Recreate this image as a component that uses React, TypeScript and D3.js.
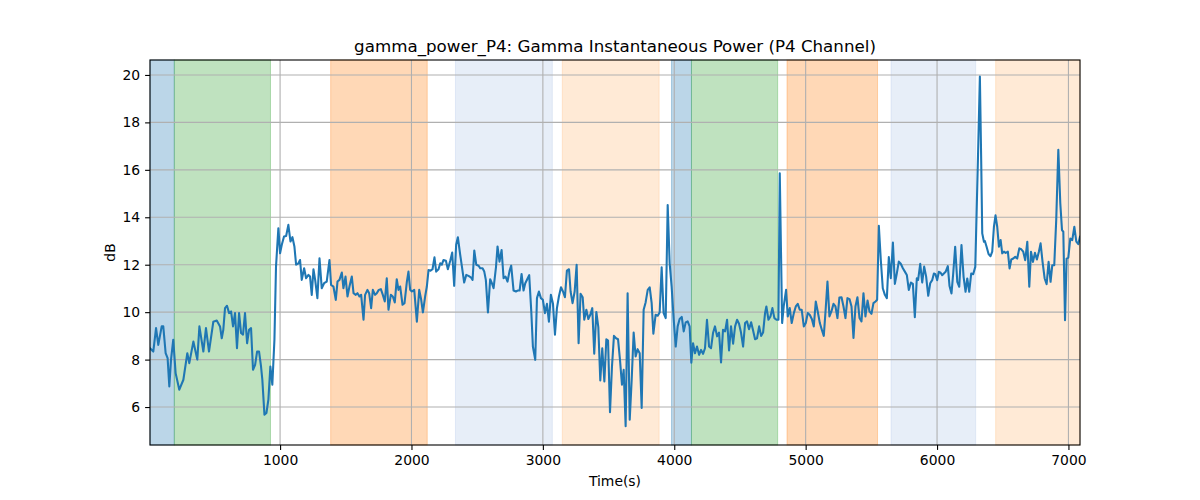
import React, { useEffect, useRef } from "react";
import * as d3 from "d3";

// gamma power samples: [time (s), dB]
const gammaPower: [number, number][] = [
	[10, 8.48], [35, 8.34], [56, 9.33], [73, 8.62], [99, 9.4], [111, 9.4], [129, 8.27], [144, 8.06],
	[157, 6.87], [170, 8.0], [187, 8.84], [205, 7.43], [233, 6.73], [264, 7.15], [294, 8.27], [309, 7.85],
	[340, 8.76], [370, 8.0], [386, 9.4], [416, 8.34], [436, 9.33], [459, 8.34], [492, 9.6], [518, 9.65],
	[543, 9.4], [556, 8.9], [568, 9.26], [581, 10.17], [596, 10.27], [612, 9.96], [627, 10.03], [642, 9.4],
	[657, 9.96], [672, 8.48], [688, 9.96], [703, 9.12], [718, 9.05], [733, 9.96], [749, 8.69], [764, 9.26],
	[779, 9.33], [794, 7.57], [810, 7.78], [825, 8.34], [840, 8.34], [855, 7.71], [865, 7.15], [881, 5.68],
	[896, 5.75], [911, 6.31], [926, 7.71], [941, 6.94], [957, 8.84], [969, 11.92], [987, 13.54], [1000, 12.48],
	[1013, 12.84], [1030, 13.19], [1046, 13.21], [1063, 13.68], [1079, 12.98], [1094, 13.16], [1109, 12.77], [1122, 12.0],
	[1140, 12.06], [1152, 12.2], [1165, 11.36], [1183, 11.85], [1198, 11.43], [1216, 11.57], [1228, 11.5], [1241, 10.73],
	[1254, 11.81], [1267, 11.36], [1284, 10.59], [1300, 12.27], [1317, 11.01], [1335, 11.22], [1355, 11.29], [1376, 12.2],
	[1388, 11.15], [1406, 11.08], [1424, 10.52], [1437, 11.29], [1452, 11.36], [1470, 11.67], [1482, 11.01], [1498, 11.5],
	[1513, 10.66], [1528, 11.08], [1546, 11.5], [1559, 10.8], [1576, 10.73], [1589, 10.8], [1604, 10.66], [1617, 10.73],
	[1635, 9.68], [1647, 10.73], [1665, 10.94], [1678, 10.8], [1693, 10.17], [1706, 10.94], [1723, 10.73], [1736, 10.8],
	[1751, 10.94], [1767, 10.97], [1782, 10.73], [1797, 10.45], [1812, 11.43], [1825, 10.1], [1843, 10.73], [1858, 10.66],
	[1873, 10.41], [1888, 11.39], [1901, 10.94], [1914, 11.08], [1932, 10.31], [1947, 10.38], [1965, 11.29], [1977, 11.71],
	[1990, 10.94], [2003, 10.87], [2021, 10.94], [2041, 9.6], [2059, 10.94], [2074, 10.52], [2087, 9.99], [2104, 10.66],
	[2117, 11.08], [2130, 11.78], [2145, 11.75], [2160, 11.81], [2175, 12.31], [2188, 11.71], [2206, 11.81], [2219, 12.06],
	[2231, 12.0], [2244, 12.2], [2262, 12.17], [2277, 11.81], [2295, 12.17], [2310, 12.51], [2325, 11.11], [2340, 12.84],
	[2353, 13.16], [2371, 12.41], [2384, 11.92], [2401, 11.25], [2417, 11.57], [2434, 11.53], [2452, 11.47], [2465, 11.36],
	[2478, 12.6], [2493, 12.0], [2511, 11.96], [2523, 11.85], [2541, 11.85], [2554, 11.71], [2566, 11.36], [2582, 9.99],
	[2599, 11.39], [2612, 11.22], [2625, 11.01], [2643, 11.89], [2655, 12.77], [2670, 12.13], [2686, 12.62], [2701, 11.43],
	[2716, 11.5], [2731, 11.29], [2747, 11.75], [2759, 11.96], [2777, 10.91], [2795, 10.87], [2808, 10.91], [2823, 10.91],
	[2838, 11.61], [2853, 10.91], [2866, 11.22], [2881, 11.39], [2896, 11.56], [2912, 10.01], [2924, 8.55], [2942, 7.99],
	[2955, 10.59], [2970, 10.87], [2985, 10.59], [3000, 10.52], [3016, 9.96], [3031, 10.35], [3046, 9.6], [3061, 10.73],
	[3077, 10.35], [3092, 9.05], [3107, 10.17], [3122, 10.66], [3138, 11.05], [3153, 10.87], [3168, 10.63], [3183, 11.75],
	[3199, 11.81], [3211, 10.87], [3226, 10.38], [3242, 10.87], [3257, 12.0], [3272, 8.69], [3287, 10.77], [3303, 10.63],
	[3315, 9.68], [3331, 10.1], [3346, 9.71], [3361, 9.89], [3376, 10.17], [3391, 8.25], [3407, 10.01], [3422, 9.37],
	[3437, 7.12], [3452, 8.48], [3468, 7.08], [3483, 8.86], [3496, 8.8], [3511, 5.78], [3526, 7.71], [3541, 9.0],
	[3557, 8.9], [3572, 8.86], [3587, 7.99], [3602, 6.94], [3615, 7.57], [3630, 5.19], [3645, 10.8], [3661, 5.47],
	[3676, 7.15], [3691, 9.14], [3706, 8.13], [3721, 8.44], [3737, 8.27], [3752, 5.96], [3767, 10.1], [3782, 10.41],
	[3798, 10.94], [3813, 11.05], [3828, 10.38], [3841, 9.09], [3858, 9.89], [3874, 9.85], [3889, 9.99], [3904, 11.89],
	[3919, 9.96], [3935, 9.75], [3950, 14.52], [3965, 12.06], [3980, 11.08], [3996, 9.68], [4011, 8.55], [4026, 9.4],
	[4041, 9.71], [4057, 9.8], [4072, 9.19], [4087, 9.57], [4102, 9.61], [4117, 9.4], [4130, 7.87], [4143, 8.69],
	[4158, 8.27], [4173, 8.55], [4189, 8.2], [4204, 8.41], [4219, 8.24], [4234, 8.48], [4249, 9.68], [4265, 8.55],
	[4280, 8.48], [4295, 9.12], [4310, 9.4], [4326, 8.98], [4341, 9.14], [4356, 7.88], [4371, 9.26], [4387, 9.19],
	[4402, 9.68], [4417, 8.39], [4432, 9.4], [4448, 8.67], [4463, 9.4], [4478, 9.68], [4493, 9.51], [4508, 9.14],
	[4524, 8.55], [4539, 9.54], [4554, 9.61], [4569, 9.28], [4585, 9.57], [4600, 9.23], [4615, 8.86], [4630, 8.9],
	[4646, 9.4], [4661, 9.0], [4676, 9.14], [4691, 9.96], [4701, 10.24], [4717, 9.68], [4732, 9.82], [4747, 10.17],
	[4762, 9.75], [4778, 9.68], [4793, 9.68], [4803, 15.85], [4821, 9.54], [4833, 10.24], [4851, 10.94], [4864, 9.82],
	[4879, 10.17], [4894, 9.54], [4910, 9.96], [4925, 10.24], [4940, 10.35], [4955, 10.1], [4970, 10.1], [4986, 9.4],
	[5001, 9.54], [5016, 9.96], [5031, 9.89], [5047, 9.71], [5062, 9.4], [5077, 10.45], [5092, 10.03], [5108, 9.54],
	[5123, 9.26], [5138, 9.0], [5153, 10.17], [5166, 11.29], [5181, 9.82], [5196, 10.03], [5212, 10.35], [5227, 10.24],
	[5242, 9.75], [5257, 10.62], [5273, 10.63], [5288, 10.24], [5303, 9.75], [5318, 10.59], [5334, 10.55], [5349, 10.24],
	[5364, 8.91], [5379, 10.24], [5394, 10.63], [5410, 9.75], [5425, 9.61], [5440, 10.8], [5455, 9.82], [5471, 10.49],
	[5486, 10.03], [5501, 9.93], [5516, 10.38], [5532, 10.45], [5544, 10.52], [5557, 13.64], [5572, 12.2], [5587, 11.01],
	[5603, 10.73], [5618, 10.59], [5633, 12.32], [5648, 11.43], [5664, 12.93], [5679, 11.19], [5694, 11.64], [5709, 12.13],
	[5724, 12.04], [5740, 11.85], [5755, 11.71], [5770, 11.57], [5785, 10.94], [5801, 11.25], [5816, 11.19], [5831, 9.79],
	[5846, 11.43], [5856, 11.36], [5872, 12.04], [5887, 11.25], [5902, 11.92], [5917, 11.5], [5933, 10.69], [5948, 11.22],
	[5963, 11.35], [5976, 11.63], [5988, 11.6], [6001, 11.35], [6014, 11.7], [6027, 11.66], [6039, 11.56], [6052, 11.63],
	[6065, 11.7], [6082, 11.94], [6095, 11.1], [6110, 10.79], [6123, 11.63], [6138, 12.76], [6154, 11.28], [6169, 11.07],
	[6186, 12.83], [6202, 11.49], [6217, 10.86], [6230, 11.42], [6245, 10.86], [6260, 11.63], [6275, 11.6], [6291, 11.91],
	[6311, 16.41], [6326, 19.93], [6336, 16.4], [6344, 13.32], [6357, 12.97], [6364, 13.0], [6377, 12.76], [6392, 12.45],
	[6407, 12.36], [6420, 12.55], [6433, 13.6], [6445, 14.08], [6458, 13.6], [6471, 12.76], [6484, 13.04], [6496, 12.48],
	[6509, 12.55], [6522, 12.5], [6539, 12.55], [6552, 11.84], [6565, 12.22], [6580, 12.26], [6595, 12.33], [6610, 12.26],
	[6626, 12.69], [6641, 12.65], [6656, 12.55], [6671, 12.19], [6687, 12.97], [6702, 11.07], [6715, 12.55], [6730, 12.12],
	[6745, 12.5], [6760, 12.22], [6775, 12.55], [6788, 12.9], [6803, 12.12], [6819, 11.42], [6834, 11.18], [6849, 12.12],
	[6864, 11.28], [6877, 11.98], [6892, 11.98], [6907, 13.88], [6923, 16.84], [6938, 14.59], [6951, 13.46], [6961, 13.39],
	[6974, 9.66], [6986, 12.26], [6999, 12.3], [7014, 13.1], [7029, 13.04], [7045, 13.6], [7060, 12.97], [7075, 12.87],
	[7088, 13.18],
];

// shaded segments: [start, end, colour, opacity]
const spans: [number, number, string, number][] = [
	[10, 195, "#1f77b4", 0.3],
	[195, 927, "#2ca02c", 0.3],
	[1385, 2120, "#ff7f0e", 0.3],
	[2335, 3072, "#aec7e8", 0.3],
	[3148, 3885, "#ffbb78", 0.3],
	[3979, 4131, "#1f77b4", 0.3],
	[4131, 4787, "#2ca02c", 0.3],
	[4858, 5547, "#ff7f0e", 0.3],
	[5650, 6294, "#aec7e8", 0.3],
	[6446, 7088, "#ffbb78", 0.3],
];

const xTicks = [1000, 2000, 3000, 4000, 5000, 6000, 7000];
const yTicks = [6, 8, 10, 12, 14, 16, 18, 20];

export default function App() {
	const svgRef = useRef<SVGSVGElement | null>(null);

	useEffect(() => {
		if (!svgRef.current) return;
		const width = 1200;
		const height = 500;
		const margin = { top: 60, right: 120, bottom: 55, left: 150 };
		const font = "DejaVu Sans, sans-serif";

		const x = d3.scaleLinear().domain([10, 7088]).range([margin.left, width - margin.right]);
		const y = d3.scaleLinear().domain([4.4, 20.63]).range([height - margin.bottom, margin.top]);

		const svg = d3.select(svgRef.current);
		svg.selectAll("*").remove();
		svg.append("rect").attr("width", width).attr("height", height).attr("fill", "white");

		const plot = svg.append("g");
		const clip = svg.append("clipPath").attr("id", "plotclip");
		clip.append("rect")
			.attr("x", margin.left)
			.attr("y", margin.top)
			.attr("width", width - margin.left - margin.right)
			.attr("height", height - margin.top - margin.bottom);

		// spans
		plot.append("g")
			.selectAll("rect")
			.data(spans)
			.enter()
			.append("rect")
			.attr("x", (d) => x(d[0]))
			.attr("width", (d) => x(d[1]) - x(d[0]))
			.attr("y", margin.top)
			.attr("height", height - margin.top - margin.bottom)
			.attr("fill", (d) => d[2])
			.attr("fill-opacity", (d) => d[3])
			.attr("stroke", (d) => d[2])
			.attr("stroke-opacity", (d) => d[3])
			.attr("stroke-width", 1);

		// grid
		const grid = plot.append("g").attr("stroke", "#b0b0b0").attr("stroke-width", 1.1);
		xTicks.forEach((t) => {
			grid.append("line").attr("x1", x(t)).attr("x2", x(t)).attr("y1", margin.top).attr("y2", height - margin.bottom);
		});
		yTicks.forEach((t) => {
			grid.append("line").attr("y1", y(t)).attr("y2", y(t)).attr("x1", margin.left).attr("x2", width - margin.right);
		});

		// line
		const line = d3
			.line<[number, number]>()
			.x((d) => x(d[0]))
			.y((d) => y(d[1]));
		plot.append("path")
			.datum(gammaPower)
			.attr("clip-path", "url(#plotclip)")
			.attr("d", line)
			.attr("fill", "none")
			.attr("stroke", "#1f77b4")
			.attr("stroke-width", 2.08)
			.attr("stroke-linejoin", "round")
			.attr("stroke-linecap", "square");

		// axes
		const xAxis = svg
			.append("g")
			.attr("transform", `translate(0,${height - margin.bottom})`)
			.call(d3.axisBottom(x).tickValues(xTicks).tickSize(4.9).tickPadding(4.9).tickFormat(d3.format("d")));
		const yAxis = svg
			.append("g")
			.attr("transform", `translate(${margin.left},0)`)
			.call(d3.axisLeft(y).tickValues(yTicks).tickSize(4.9).tickPadding(4.9).tickFormat(d3.format("d")));
		[xAxis, yAxis].forEach((a) => {
			a.select(".domain").remove();
			a.selectAll("line").attr("stroke", "black").attr("stroke-width", 1.1);
			a.selectAll("text").attr("font-family", font).attr("font-size", 13.9).attr("fill", "black");
		});

		// frame
		svg.append("rect")
			.attr("x", margin.left)
			.attr("y", margin.top)
			.attr("width", width - margin.left - margin.right)
			.attr("height", height - margin.top - margin.bottom)
			.attr("fill", "none")
			.attr("stroke", "black")
			.attr("stroke-width", 1.1);

		svg.append("text")
			.attr("x", (margin.left + width - margin.right) / 2)
			.attr("y", margin.top - 8)
			.attr("text-anchor", "middle")
			.attr("font-family", font)
			.attr("font-size", 16.7)
			.text("gamma_power_P4: Gamma Instantaneous Power (P4 Channel)");

		svg.append("text")
			.attr("x", (margin.left + width - margin.right) / 2)
			.attr("y", 486)
			.attr("text-anchor", "middle")
			.attr("font-family", font)
			.attr("font-size", 13.9)
			.text("Time(s)");

		svg.append("text")
			.attr("transform", `translate(115,${(margin.top + height - margin.bottom) / 2}) rotate(-90)`)
			.attr("text-anchor", "middle")
			.attr("font-family", font)
			.attr("font-size", 13.9)
			.text("dB");
	}, []);

	return (
		<div style={{ position: "absolute", left: 0, top: 0 }}>
			<svg ref={svgRef} width={1200} height={500} style={{ display: "block" }} />
		</div>
	);
}
